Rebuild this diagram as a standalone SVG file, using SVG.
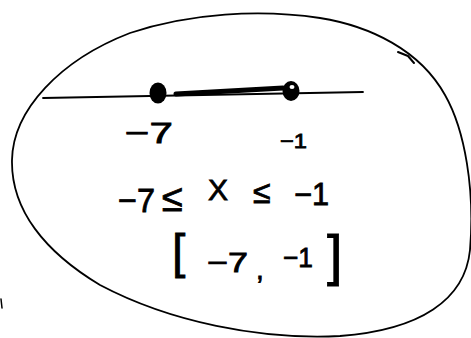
<svg xmlns="http://www.w3.org/2000/svg" width="471" height="338" viewBox="0 0 471 338">
<style>
.ink{fill:none;stroke:#000;stroke-linecap:round;stroke-linejoin:round}
.t{font-family:"Liberation Sans",Arial,sans-serif;fill:#000;stroke:#000;stroke-width:0.8}
</style>
<rect width="471" height="338" fill="#fff"/>
<g id="oval">
<path class="ink" stroke-width="1.8" d="M12,160 C13,110 60,60 130,33 C190,13 260,9 320,18 C370,26 420,50 445,95 C465,130 475,190 470,250 C465,300 420,330 340,336 C260,340 170,322 100,285 C45,252 11,210 12,160 Z"/>
<path class="ink" stroke-width="2" d="M398,52 L408,56 L414,63"/>
<path class="ink" stroke-width="1.5" d="M1,299 L2,308"/>
</g>
<g id="numberline">
<path class="ink" stroke-width="1.8" d="M43,98 L363,92"/>
<path class="ink" stroke-width="5" d="M176,94 L283,88"/>
<ellipse cx="158" cy="93" rx="8.5" ry="10.5" fill="#000"/>
<ellipse cx="291" cy="91" rx="8.5" ry="10" fill="#000"/>
<ellipse cx="292" cy="87" rx="2.5" ry="2" fill="#fff"/>
</g>
<g id="labels">
<text class="t" x="125" y="143" font-size="29" textLength="48" lengthAdjust="spacingAndGlyphs">−7</text>
<text class="t" x="280" y="148" font-size="21" textLength="27" lengthAdjust="spacingAndGlyphs">−1</text>
</g>
<g id="inequality">
<text class="t" x="118" y="212" font-size="34" textLength="37" lengthAdjust="spacingAndGlyphs">−7</text>
<text class="t" x="162" y="211" font-size="38">≤</text>
<text class="t" x="208" y="200" font-size="30">X</text>
<text class="t" x="253" y="203" font-size="32">≤</text>
<text class="t" x="294" y="205" font-size="31" textLength="35" lengthAdjust="spacingAndGlyphs">−1</text>
</g>
<g id="interval">
<text class="t" x="172" y="268" font-size="48">[</text>
<text class="t" x="207" y="272" font-size="28" textLength="41" lengthAdjust="spacingAndGlyphs">−7</text>
<text class="t" x="256" y="279" font-size="28">,</text>
<text class="t" x="283" y="267" font-size="28" textLength="30" lengthAdjust="spacingAndGlyphs">−1</text>
<text class="t" x="327" y="274" font-size="56">]</text>
</g>
</svg>
